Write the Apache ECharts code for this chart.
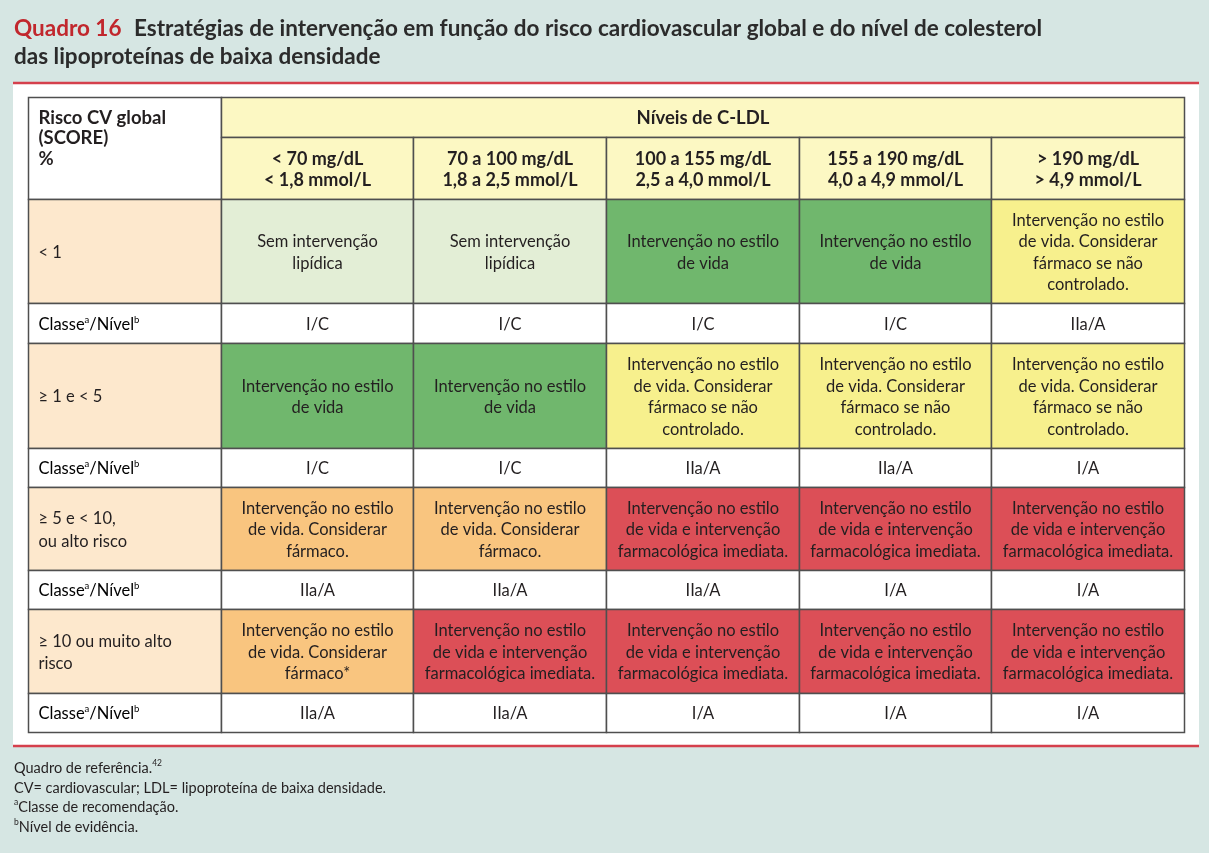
<!DOCTYPE html>
<html>
<head>
<meta charset="utf-8">
<script src="https://cdn.jsdelivr.net/npm/echarts@6/dist/echarts.min.js"></script>
<style>
html,body{margin:0;padding:0;background:#d6e6e3;}
#c{width:1209px;height:853px;}
</style>
</head>
<body>
<div id="c"></div>
<script>
// ---------- DATA ----------
const groupHeader = 'Níveis de C-LDL';
const cornerHeader = 'Risco CV global\n(SCORE)\n%';
const columnLabels = [
  '< 70 mg/dL\n< 1,8 mmol/L',
  '70 a 100 mg/dL\n1,8 a 2,5 mmol/L',
  '100 a 155 mg/dL\n2,5 a 4,0 mmol/L',
  '155 a 190 mg/dL\n4,0 a 4,9 mmol/L',
  '> 190 mg/dL\n> 4,9 mmol/L'
];
const riskLabels = [
  '< 1',
  '≥ 1 e < 5',
  '≥ 5 e < 10,\nou alto risco',
  '≥ 10 ou muito alto\nrisco'
];
const strategyByRisk = [
  ['none', 'none', 'life', 'life', 'considerNC'],
  ['life', 'life', 'considerNC', 'considerNC', 'considerNC'],
  ['consider', 'consider', 'immediate', 'immediate', 'immediate'],
  ['considerStar', 'immediate', 'immediate', 'immediate', 'immediate']
];
const classByRisk = [
  ['I/C', 'I/C', 'I/C', 'I/C', 'IIa/A'],
  ['I/C', 'I/C', 'IIa/A', 'IIa/A', 'I/A'],
  ['IIa/A', 'IIa/A', 'IIa/A', 'I/A', 'I/A'],
  ['IIa/A', 'IIa/A', 'I/A', 'I/A', 'I/A']
];
const strategyTexts = {
  none: 'Sem intervenção\nlipídica',
  life: 'Intervenção no estilo\nde vida',
  considerNC: 'Intervenção no estilo\nde vida. Considerar\nfármaco se não\ncontrolado.',
  consider: 'Intervenção no estilo\nde vida. Considerar\nfármaco.',
  considerStar: 'Intervenção no estilo\nde vida. Considerar\nfármaco*',
  immediate: 'Intervenção no estilo\nde vida e intervenção\nfarmacológica imediata.'
};
const titleRed = 'Quadro 16';
const titleLines = [
  'Estratégias de intervenção em função do risco cardiovascular global e do nível de colesterol',
  'das lipoproteínas de baixa densidade'
];
const footnotes = [
  'Quadro de referência.',
  'CV= cardiovascular; LDL= lipoproteína de baixa densidade.',
  'Classe de recomendação.',
  'Nível de evidência.'
];

// ---------- STYLE / LAYOUT ----------
const FONT = 'Lato, "DejaVu Sans", sans-serif';
const strategyColors = {
  none: '#e3eed6',
  life: '#70b76d',
  considerNC: '#f7f08d',
  consider: '#f9c57f',
  considerStar: '#f9c57f',
  immediate: '#dc4f57'
};
const headerFill = '#fcf8c3';
const riskFill = '#fde8cd';
const rowHeights = [40, 62, 104, 40, 105, 39, 83, 39, 84, 39];
const rowEdges = [0];
rowHeights.forEach(h => rowEdges.push(rowEdges[rowEdges.length - 1] + h));

const cells = [];
function addCell(c0, c1, r0, r1, fill, text, opt) {
  cells.push(Object.assign({ value: [c0, rowEdges[r0], c1, rowEdges[r1]], fill, text }, opt || {}));
}
addCell(0, 1, 0, 2, '#ffffff', cornerHeader, { align: 'left', vtop: true, bold: true, lh: 20.5, fs: 18.5 });
addCell(1, 6, 0, 1, headerFill, groupHeader, { bold: true, fs: 18.5 });
columnLabels.forEach((l, i) => addCell(i + 1, i + 2, 1, 2, headerFill, l, { bold: true, lh: 21, fs: 18 }));
riskLabels.forEach((rl, r) => {
  const r0 = 2 + r * 2;
  addCell(0, 1, r0, r0 + 1, riskFill, rl, { align: 'left', lh: 22.5 });
  addCell(0, 1, r0 + 1, r0 + 2, '#ffffff', 'CLASS', { align: 'left', rich: true });
  strategyByRisk[r].forEach((code, c) => {
    addCell(c + 1, c + 2, r0, r0 + 1, strategyColors[code], strategyTexts[code], { lh: 21.5 });
    addCell(c + 1, c + 2, r0 + 1, r0 + 2, '#ffffff', classByRisk[r][c], {});
  });
});

const chart = echarts.init(document.getElementById('c'));
const supRich = {
  n: { fontSize: 16.5, fontFamily: FONT, color: '#231f20', lineHeight: 20 },
  s: { fontSize: 9.5, fontFamily: FONT, color: '#231f20', verticalAlign: 'top', lineHeight: 20 }
};
chart.setOption({
  backgroundColor: '#d6e6e3',
  animation: false,
  title: [
    {
      left: 14, top: 15, padding: 0,
      text: '{r|' + titleRed + '}  {b|' + titleLines[0] + '}\n{b|' + titleLines[1] + '}',
      textStyle: {
        fontSize: 22.5, fontWeight: 'bold',
        rich: {
          r: { color: '#c1272d', fontSize: 22.5, fontWeight: 'bold', fontFamily: FONT, lineHeight: 27.5 },
          b: { color: '#2b2b2b', fontSize: 22.5, fontWeight: 'bold', fontFamily: FONT, lineHeight: 27.5 }
        }
      }
    },
    {
      left: 14, top: 759, padding: 0,
      text: '{n|' + footnotes[0] + '}{s|42}\n{n|' + footnotes[1] + '}\n{s|a}{n|' + footnotes[2] + '}\n{s|b}{n|' + footnotes[3] + '}',
      textStyle: {
        fontWeight: 'normal', fontSize: 14.5,
        rich: {
          n: { fontSize: 14.5, fontWeight: 'normal', fontFamily: FONT, color: '#231f20', lineHeight: 19.5 },
          s: { fontSize: 8.5, fontWeight: 'normal', fontFamily: FONT, color: '#231f20', lineHeight: 19.5, verticalAlign: 'top' }
        }
      }
    }
  ],
  graphic: [
    { type: 'rect', z: -10, shape: { x: 13, y: 83, width: 1186, height: 663 }, style: { fill: '#ffffff' } },
    { type: 'line', z: -5, shape: { x1: 13, y1: 83, x2: 1199, y2: 83 }, style: { stroke: '#d5404c', lineWidth: 2.5 } },
    { type: 'line', z: -5, shape: { x1: 13, y1: 746, x2: 1199, y2: 746 }, style: { stroke: '#d5404c', lineWidth: 2.5 } }
  ],
  grid: { left: 28, right: 25, top: 97, bottom: 121 },
  xAxis: { type: 'value', min: 0, max: 6, show: false },
  yAxis: { type: 'value', min: 0, max: rowEdges[rowEdges.length - 1], inverse: true, show: false },
  series: [{
    type: 'custom',
    clip: false,
    data: cells.map(c => ({ value: c.value })),
    renderItem: function (params, api) {
      const cell = cells[params.dataIndex];
      const p0 = api.coord([api.value(0), api.value(1)]);
      const p1 = api.coord([api.value(2), api.value(3)]);
      const x = Math.round(p0[0]) + 0.5, y = Math.round(p0[1]) + 0.5;
      const w = Math.round(p1[0]) - Math.round(p0[0]), h = Math.round(p1[1]) - Math.round(p0[1]);
      const children = [{
        type: 'rect',
        shape: { x, y, width: w, height: h },
        style: { fill: cell.fill, stroke: '#4f4f4f', lineWidth: 1.5 }
      }];
      const left = cell.align === 'left';
      const tx = left ? x + 10 : x + w / 2;
      const ty = cell.vtop ? y + 10 : y + h / 2 + 1;
      if (cell.rich) {
        children.push({
          type: 'text',
          style: {
            x: tx, y: ty, align: 'left', verticalAlign: 'middle',
            text: '{n|Classe}{s|a}{n|/Nível}{s|b}',
            rich: supRich
          }
        });
      } else {
        children.push({
          type: 'text',
          style: {
            x: tx, y: ty,
            text: cell.text,
            align: left ? 'left' : 'center',
            verticalAlign: cell.vtop ? 'top' : 'middle',
            fontSize: cell.fs || 16.5,
            fontFamily: FONT,
            fontWeight: cell.bold ? 'bold' : 'normal',
            lineHeight: cell.lh || 20,
            fill: '#231f20'
          }
        });
      }
      return { type: 'group', children };
    }
  }]
});
</script>
</body>
</html>
